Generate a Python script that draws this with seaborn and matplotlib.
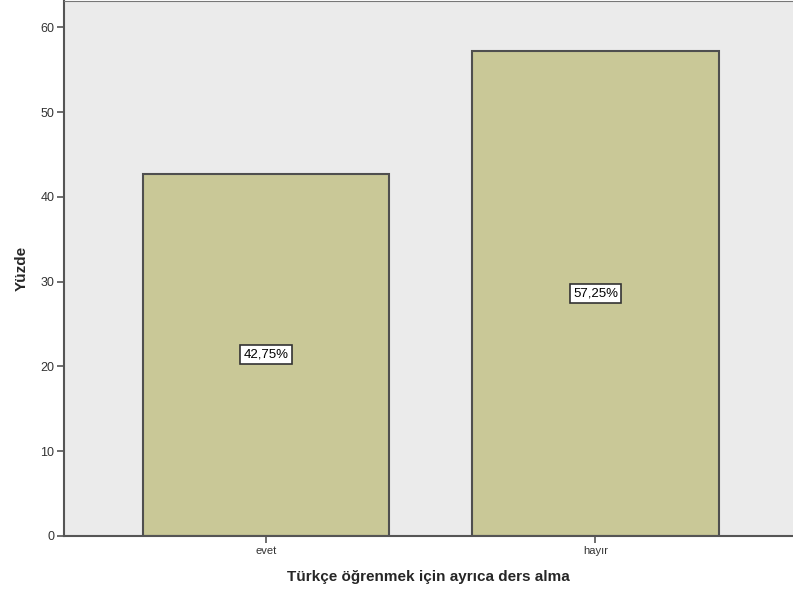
import pandas as pd
import numpy as np
import matplotlib.pyplot as plt
import seaborn as sns

# veri
kategoriler = ['evet', 'hayır']
yuzdeler = [42.75, 57.25]
etiketler = ['42,75%', '57,25%']

df = pd.DataFrame({'kategori': kategoriler, 'yuzde': yuzdeler})

sns.set_style('white')
plt.rcParams['font.family'] = ['Liberation Sans', 'DejaVu Sans']

fig = plt.figure(figsize=(7.93, 6.03), dpi=100)
ax = fig.add_axes([64 / 793, 67 / 603, 1 - 64 / 793, 535 / 603])
ax.set_facecolor('#ebebeb')

sns.barplot(data=df, x='kategori', y='yuzde', color='#c9c897', saturation=1,
            width=0.748, edgecolor='#4f4f4f', linewidth=1.5, ax=ax)

# ortadaki yüzde kutuları
for i, (v, t) in enumerate(zip(yuzdeler, etiketler)):
    ax.text(i, v / 2, t, ha='center', va='center', fontsize=9.5, color='black',
            bbox=dict(boxstyle='square,pad=0.25', facecolor='white',
                      edgecolor='#333333', linewidth=1.2))

ax.set_xlim(-0.614, 1.60)
ax.set_ylim(0, 63.1)
ax.set_yticks(np.arange(0, 61, 10))
ax.tick_params(axis='both', bottom=True, left=True, direction='out', length=5,
               width=1.2, colors='#555555', labelcolor='#333333', pad=2)
ax.tick_params(axis='y', labelsize=9)
ax.tick_params(axis='x', labelsize=8)

for s in ['left', 'bottom']:
    ax.spines[s].set_color('#555555')
    ax.spines[s].set_linewidth(1.5)
ax.spines['top'].set_color('#777777')
ax.spines['right'].set_visible(False)

ax.set_xlabel('Türkçe öğrenmek için ayrıca ders alma', fontsize=11,
              fontweight='bold', labelpad=10)
ax.set_ylabel('Yüzde', fontsize=11, fontweight='bold', labelpad=8)

fig.savefig('out.png', dpi=100)
